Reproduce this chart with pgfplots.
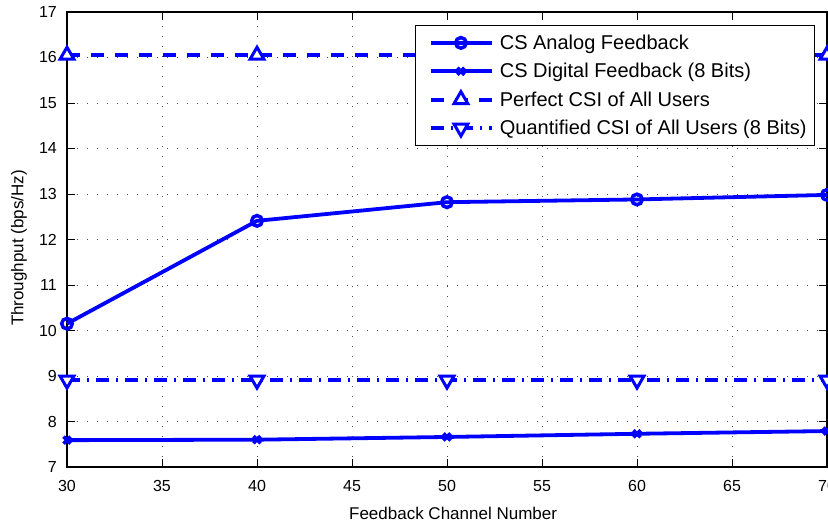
\documentclass[border=0pt]{standalone}
\usepackage{pgfplots}
\pgfplotsset{compat=1.18}
\usepackage{fontspec}
\setmainfont{Liberation Sans}
\begin{document}
\begin{tikzpicture}
\begin{axis}[
 name=ax,
 scale only axis, width=760pt, height=455pt,
 xmin=30, xmax=70, ymin=7, ymax=17,
 xtick={30,35,...,70}, ytick={7,8,...,17},
 /pgf/number format/assume math mode=true,
 ticklabel style={font=\fontsize{16}{19}\selectfont},
 xticklabel style={anchor=base, yshift=-25pt},
 yticklabel style={anchor=east, inner sep=0pt, xshift=-10pt},
 tick align=inside, major tick length=8pt,
 tick style={black, line width=0.8pt},
 axis line style={black, line width=1.2pt},
 grid=major,
 major grid style={black!70, line width=0.7pt, dash pattern=on 0.8pt off 9.2pt},
 xlabel={Feedback Channel Number}, ylabel={Throughput (bps/Hz)},
 every axis x label/.style={at={(axis description cs:0.508,-0.1143)}, anchor=base, font=\fontsize{17}{20}\selectfont},
 every axis y label/.style={at={(axis description cs:-0.0632,0.4813)}, anchor=center, rotate=90, font=\fontsize{17}{20}\selectfont},
 clip=false,
 legend style={at={(axis description cs:0.98421,0.97143)}, anchor=north east, draw=black, line width=0.8pt, fill=white,
   font=\fontsize{20}{24}\selectfont, cells={anchor=west}, inner xsep=6pt, inner ysep=7.5pt, row sep=8.4pt, column sep=4pt},
 legend image code/.code={\path (-8pt,0pt); \draw[mark repeat=2,mark phase=2,#1] plot coordinates {(0pt,0pt) (30pt,0pt) (61pt,0pt)};},
]
\addplot[blue, line width=3.8pt, mark=o, mark size=5.3pt, mark options={solid, line width=3.5pt}]
 coordinates {(30,10.15)(40,12.41)(50,12.82)(60,12.88)(70,12.98)};
\addlegendentry{CS Analog Feedback}
\addplot[blue, line width=3.8pt, mark=x, mark size=5pt, mark options={solid, line width=3.5pt}]
 coordinates {(30,7.59)(40,7.60)(50,7.66)(60,7.73)(70,7.79)};
\addlegendentry{CS Digital Feedback (8 Bits)}
\addplot[blue, line width=3.8pt, dash pattern=on 13pt off 11pt, mark=triangle*, mark size=8pt, mark options={solid, fill=white, line width=3pt}]
 coordinates {(30,16.05)(40,16.05)(50,16.05)(60,16.05)(70,16.05)};
\addlegendentry{Perfect CSI of All Users}
\addplot[blue, line width=3.8pt, dash pattern=on 13pt off 7pt on 2pt off 7pt, mark=triangle*, mark size=8pt, mark options={solid, fill=white, rotate=180, line width=3pt}]
 coordinates {(30,8.91)(40,8.91)(50,8.91)(60,8.91)(70,8.91)};
\addlegendentry{Quantified CSI of All Users (8 Bits)}
\end{axis}
\pgfresetboundingbox
\path[use as bounding box] ([xshift=-67pt,yshift=-56pt]ax.south west) rectangle ([xshift=1pt,yshift=12pt]ax.north east);
\end{tikzpicture}
\end{document}
